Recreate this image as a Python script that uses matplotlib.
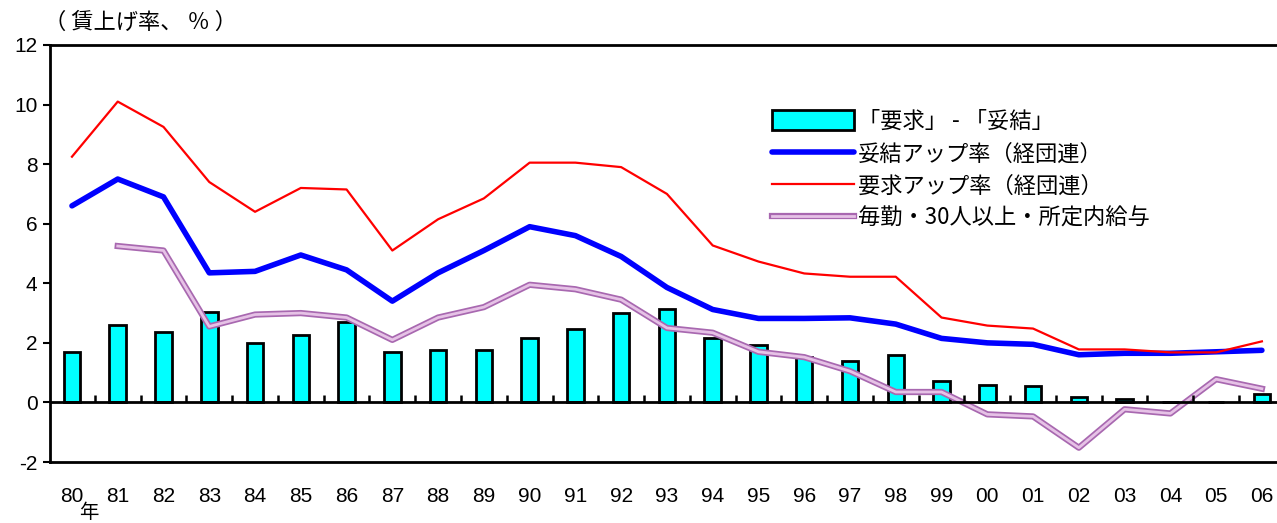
import matplotlib
matplotlib.use("Agg")
import matplotlib.pyplot as plt
import matplotlib.patheffects as pe
from matplotlib.patches import Rectangle
from matplotlib.lines import Line2D
import numpy as np

years = ["80", "81", "82", "83", "84", "85", "86", "87", "88", "89", "90", "91", "92", "93",
         "94", "95", "96", "97", "98", "99", "00", "01", "02", "03", "04", "05", "06"]
demand_minus_settle = [1.7, 2.6, 2.35, 3.05, 2.0, 2.25, 2.7, 1.7, 1.75, 1.75, 2.15, 2.45, 3.0, 3.15,
                       2.15, 1.92, 1.54, 1.39, 1.58, 0.72, 0.6, 0.55, 0.18, 0.12, 0.03, 0.0, 0.28]
settle_rate = [6.6, 7.5, 6.9, 4.35, 4.4, 4.95, 4.45, 3.4, 4.35, 5.1, 5.9, 5.6, 4.9, 3.86,
               3.12, 2.82, 2.82, 2.84, 2.63, 2.15, 2.0, 1.95, 1.6, 1.65, 1.65, 1.7, 1.75]
demand_rate = [8.25, 10.1, 9.25, 7.4, 6.4, 7.2, 7.15, 5.1, 6.15, 6.85, 8.05, 8.05, 7.9, 7.0,
               5.27, 4.73, 4.33, 4.22, 4.22, 2.85, 2.58, 2.48, 1.78, 1.78, 1.68, 1.68, 2.05]
maikin = [np.nan, 5.25, 5.1, 2.55, 2.95, 3.0, 2.85, 2.1, 2.85, 3.2, 3.95, 3.8, 3.45, 2.5,
          2.34, 1.7, 1.52, 1.05, 0.35, 0.35, -0.4, -0.47, -1.52, -0.23, -0.37, 0.78, 0.46]

labels = ["「要求」 - 「妥結」", "妥結アップ率（経団連）", "要求アップ率（経団連）", "毎勤・30人以上・所定内給与"]

num_font = "Liberation Sans"
jp = ["Noto Sans CJK JP", "DejaVu Sans"]
plt.rcParams['font.family'] = jp

fig = plt.figure(figsize=(12.77, 5.23), dpi=100)
ax = fig.add_axes([50/1277, 1-462/523, 1-50/1277, (462-45)/523])

x = np.arange(len(years))
ax.bar(x, demand_minus_settle, width=0.36, color="#00FFFF", edgecolor="black", linewidth=2, zorder=2)
ax.plot(x, settle_rate, color="#0000FF", lw=4, solid_capstyle="round", zorder=4)
ax.plot(x, demand_rate, color="#FF0000", lw=1.6, zorder=4)
peff = [pe.Stroke(linewidth=4.5, foreground="#a868b0"), pe.Normal()]
ax.plot(x, maikin, color="#e6c2e6", lw=2.0, zorder=3, path_effects=peff)

ax.set_xlim(-0.48, 26.33)
ax.set_ylim(-2, 12)
ax.axhline(0, color="black", lw=2, zorder=5)
bounds = np.arange(len(years) - 1) + 0.5
ax.vlines(bounds, 0, 0.25, color="black", lw=1.8, zorder=5)

ax.set_yticks(np.arange(-2, 13, 2))
ax.set_yticklabels([str(v) for v in range(-2, 13, 2)], fontfamily=num_font, fontsize=15)
ax.tick_params(axis="y", direction="out", length=5, width=1.5, pad=4)
ax.set_xticks(x)
ax.set_xticklabels(years, fontfamily=num_font, fontsize=15)
ax.tick_params(axis="x", length=0, pad=18)
for s in ["left", "top", "bottom"]:
    ax.spines[s].set_linewidth(2)
ax.spines["right"].set_visible(False)

fig.text(44/1277, 1-22/523, "（ 賃上げ率、 ％ ）", fontsize=16, va="center", ha="left")
fig.text(89/1277, 0.0, "年", fontsize=14, ha="center", va="bottom")

h_bar = Rectangle((0, 0), 1, 1, facecolor="#00FFFF", edgecolor="black", linewidth=2)
h_blue = Line2D([], [], color="#0000FF", lw=4, solid_capstyle="round")
h_red = Line2D([], [], color="#FF0000", lw=1.6)
h_pur = Line2D([], [], color="#e6c2e6", lw=2.0, path_effects=peff)
leg = fig.legend([h_bar, h_blue, h_red, h_pur], labels, loc="upper left",
                 bbox_to_anchor=(752/1277, 1-90/523), frameon=False, fontsize=16,
                 handlelength=3.7, handleheight=1.0, handletextpad=0.15, labelspacing=0.42)

fig.savefig("out.png", dpi=100)
